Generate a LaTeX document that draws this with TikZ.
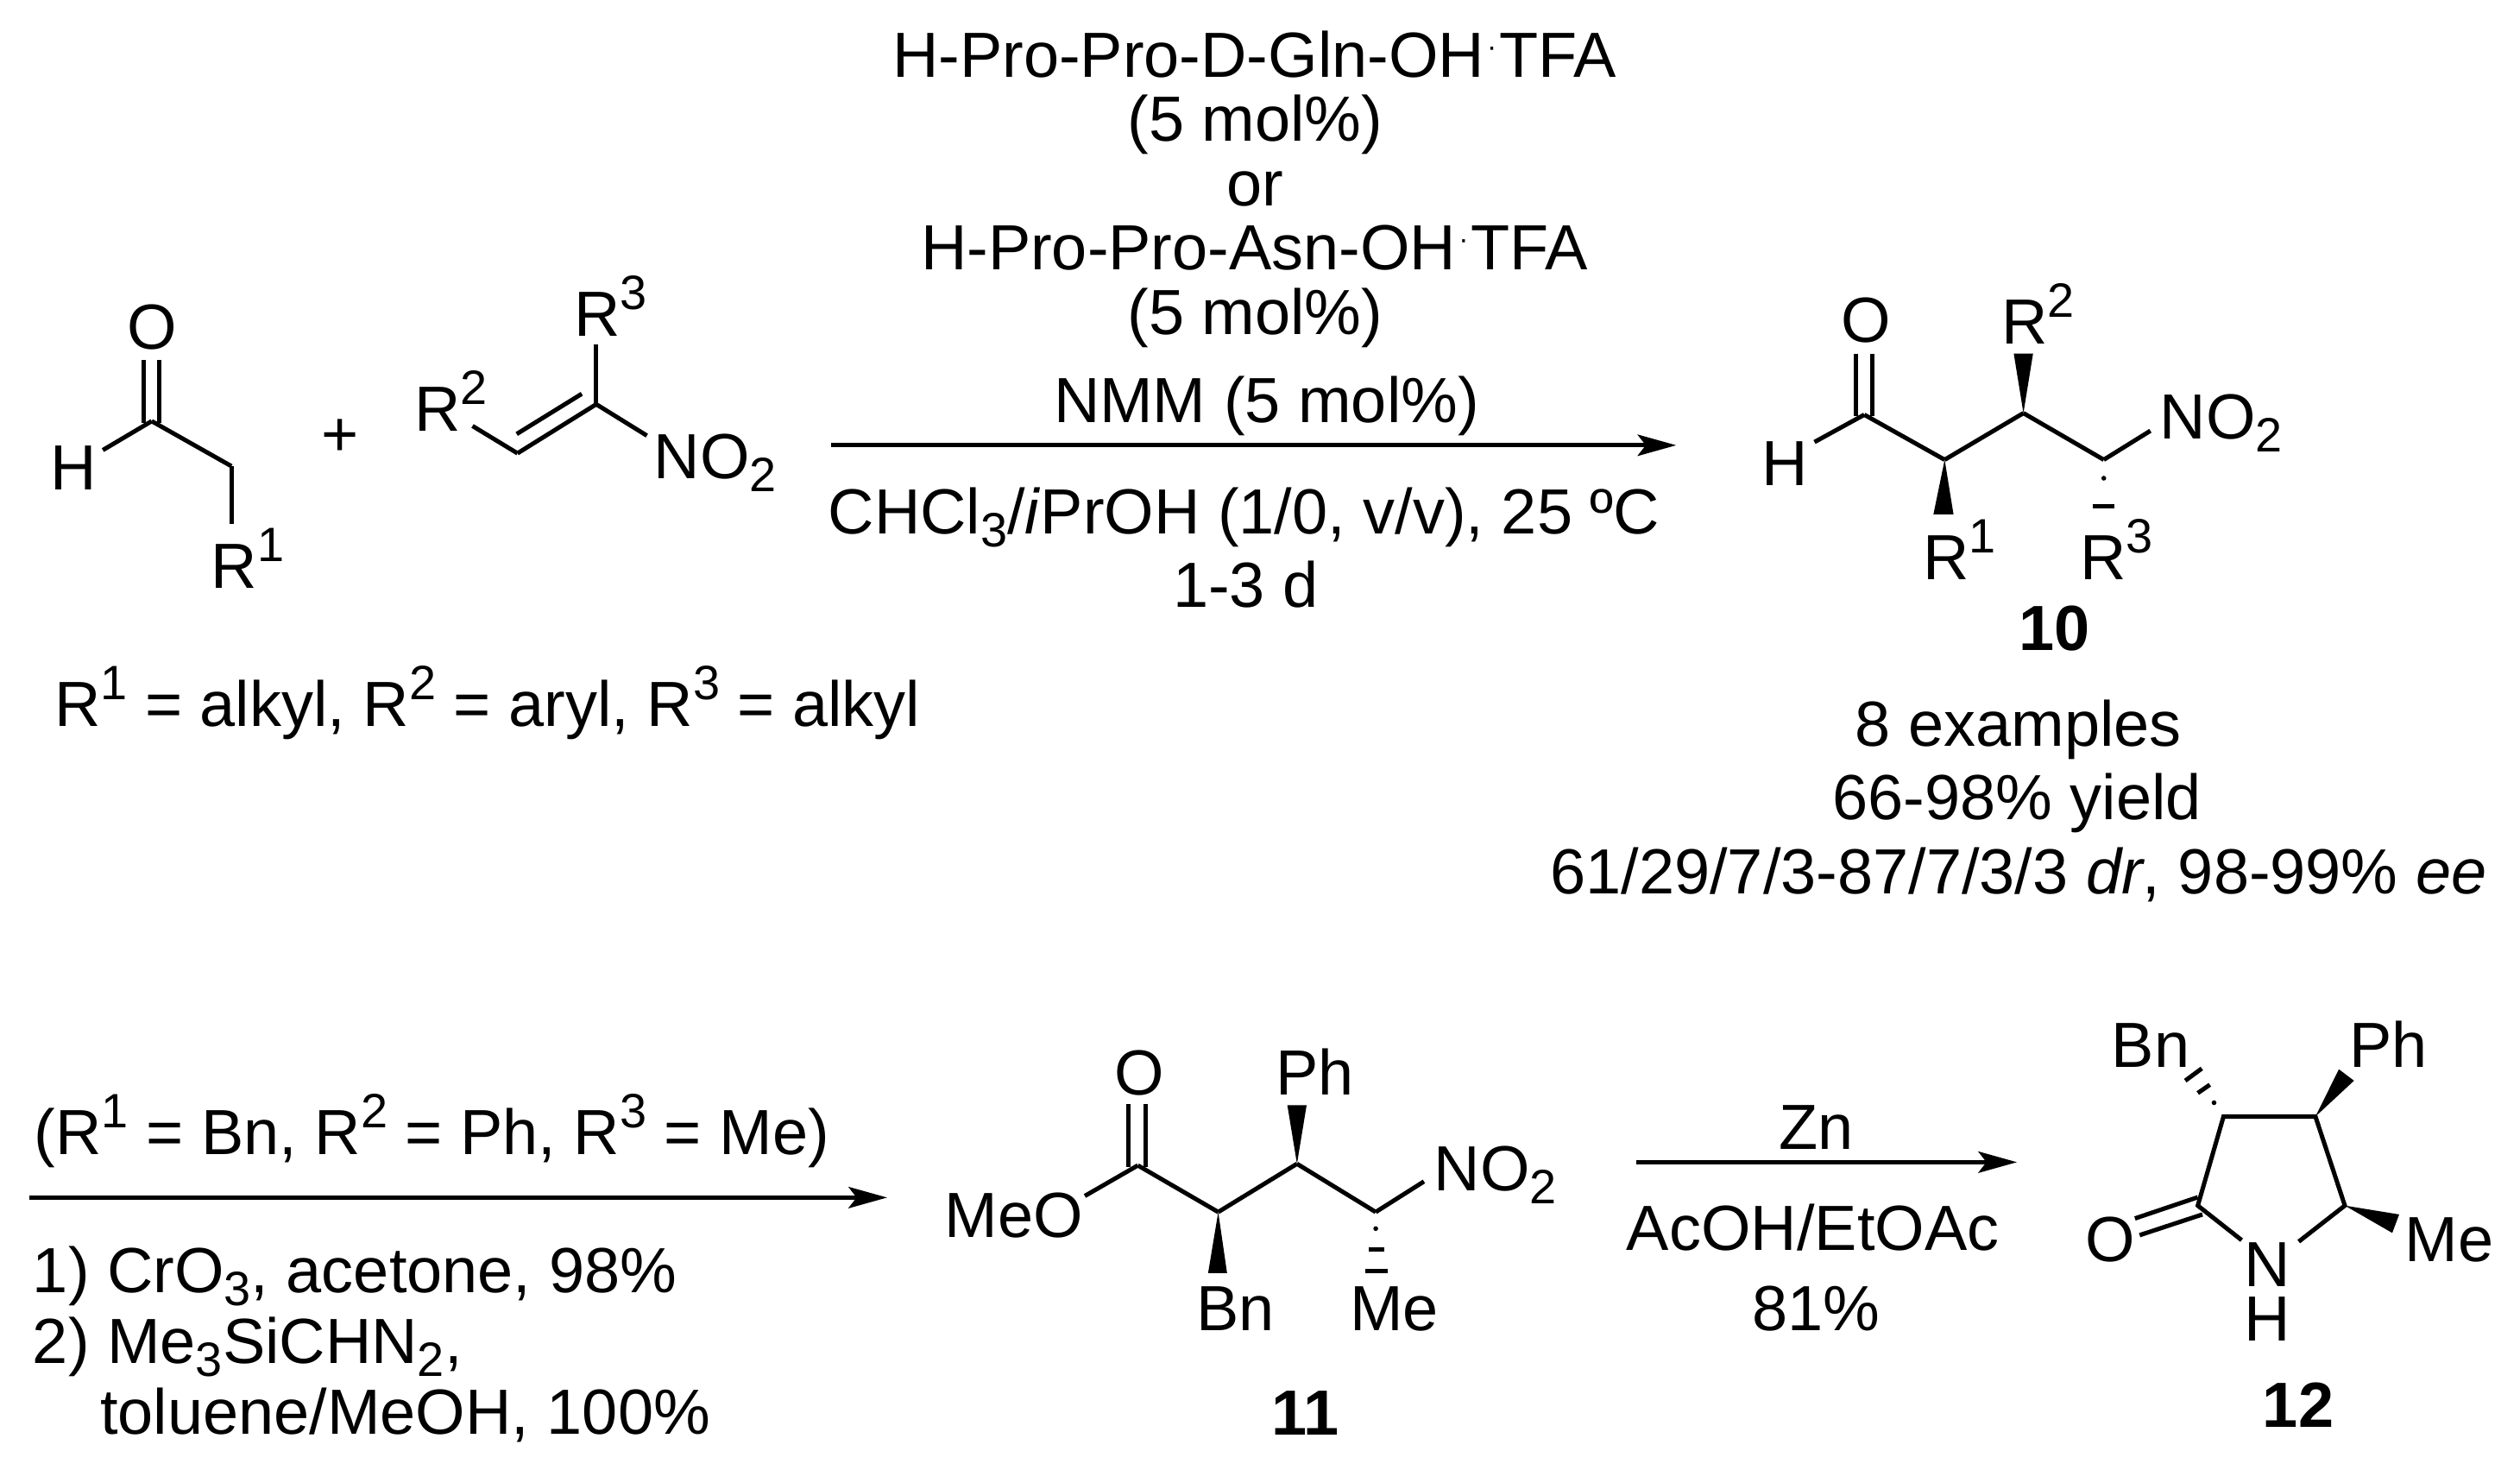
\documentclass[tikz,border=0pt]{standalone}
\usepackage{fontspec}
\setmainfont{Liberation Sans}
\usetikzlibrary{arrows.meta}
\newcommand{\Sup}[1]{\raisebox{8.3pt}{\fontsize{15}{15}\selectfont #1}}
\newcommand{\Sub}[1]{\raisebox{-4pt}{\fontsize{15}{15}\selectfont #1}}
\newcommand{\Dot}{\hspace{0.8pt}\raisebox{6.5pt}{\fontsize{9}{9}\selectfont ·}\hspace{0.8pt}}
\tikzset{
  bond/.style={line width=1.35pt},
  rxn/.style={line width=1.35pt,-{Stealth[length=12pt,width=6.6pt,inset=2.5pt]}},
  atom/.style={inner sep=0pt,anchor=base west},
  line/.style={inner sep=0pt,anchor=base}
}
\begin{document}
\begin{tikzpicture}[x=0.5pt,y=-0.5pt,font=\fontsize{19.85}{20}\selectfont]
  \useasboundingbox (0,0) rectangle (1568,914);

  % aldehyde and nitroalkene
  \foreach \n/\x/\y in {a1/94.4/262,a2/144/290,aO1/89.5/224,aO2/99.3/224,aO3/89.5/263,aO4/99.3/263,
      aH/64/280,aR/144/326,b1/294/265,b2/322/282,b3/371/251.5,b4/321.5/270,b5/362/245,bR/371/214,bN/402.5/271}
    \coordinate (\n) at (\x,\y);
  \foreach \a/\b in {a1/a2,a2/aR,a1/aH,aO1/aO3,aO2/aO4,b1/b2,b2/b3,b4/b5,b3/bR,b3/bN}
    \draw[bond] (\a) -- (\b);
  \node[atom] (labO) at (79,217) {O};
  \node[atom] (labH) at (31,305) {H};
  \node[atom] (labR1) at (131,366) {R\Sup{1}};
  \node[line] (plus) at (211.5,284) {+};
  \node[atom] (labR2) at (257.5,268) {R\Sup{2}};
  \node[atom] (labR3) at (357,209) {R\Sup{3}};
  \node[atom] (labN) at (406.5,298) {NO\Sub{2}};
  \node[atom] (defs) at (33.5,452) {R\Sup{1} = alkyl, R\Sup{2} = aryl, R\Sup{3} = alkyl};

  % first step
  \coordinate (s1) at (517,277);
  \coordinate (e1) at (1043,277);
  \draw[rxn] (s1) -- (e1);
  \node[line] (cat1) at (780.5,48) {H-Pro-Pro-D-Gln-OH\Dot TFA};
  \node[line] (cat2) at (781,88) {(5 mol\%)};
  \node[line] (cat3) at (781,128) {or};
  \node[line] (cat4) at (780.5,168) {H-Pro-Pro-Asn-OH\Dot TFA};
  \node[line] (cat5) at (781,208) {(5 mol\%)};
  \node[line] (cat6) at (788,263) {NMM (5 mol\%)};
  \node[line] (cat7) at (774,332) {CHCl\Sub{3}/\textit{i}PrOH (1/0, v/v), 25 ºC};
  \node[line] (cat8) at (775,378) {1-3 d};

  % product 10
  \foreach \n/\x/\y in {c1/1160/258,c2/1210/286,c3/1259/257,c4/1309/286,cH/1129/275,cN/1338/268,
      cO1/1155/220,cO2/1165/220,cO3/1155/259,cO4/1165/259}
    \coordinate (\n) at (\x,\y);
  \foreach \a/\b in {c1/c2,c2/c3,c3/c4,c1/cH,c4/cN,cO1/cO3,cO2/cO4}
    \draw[bond] (\a) -- (\b);
  \fill (c2) -- (1203,320) -- (1215.5,320) -- cycle;
  \fill (c3) -- (1253,220) -- (1265,220) -- cycle;
  \fill (1309,297.5) circle[radius=1.5];
  \draw[bond] (1302,315) -- (1315.5,315);
  \node[atom] (c10O) at (1145,213) {O};
  \node[atom] (c10H) at (1096,302) {H};
  \node[atom] (c10R1) at (1196,360.5) {R\Sup{1}};
  \node[atom] (c10R2) at (1245,214) {R\Sup{2}};
  \node[atom] (c10R3) at (1294,360.5) {R\Sup{3}};
  \node[atom] (c10N) at (1343.5,273) {NO\Sub{2}};
  \node[line] (num10) at (1278.5,404.5) {\textbf{10}};
  \node[line] (res1) at (1256,464) {8 examples};
  \node[line] (res2) at (1255,510) {66-98\% yield};
  \node[line] (res3) at (1256,556) {61/29/7/3-87/7/3/3 \textit{dr}, 98-99\% \textit{ee}};

  % second step
  \coordinate (s2) at (18,745);
  \coordinate (e2) at (552,745);
  \draw[rxn] (s2) -- (e2);
  \node[atom] (sub) at (21,718) {(R\Sup{1} = Bn, R\Sup{2} = Ph, R\Sup{3} = Me)};
  \node[atom] (ox1) at (20,804) {1) CrO\Sub{3}, acetone, 98\%};
  \node[atom] (ox2) at (20,848) {2) Me\Sub{3}SiCHN\Sub{2},};
  \node[atom] (ox3) at (62,892) {toluene/MeOH, 100\%};

  % ester 11
  \foreach \n/\x/\y in {d1/708/725,d2/758/754,d3/807/724,d4/856/754,dM/675/744,dN/886/735,
      dO1/702/687,dO2/713/687,dO3/702/726,dO4/713/726}
    \coordinate (\n) at (\x,\y);
  \foreach \a/\b in {d1/d2,d2/d3,d3/d4,d1/dM,d4/dN,dO1/dO3,dO2/dO4}
    \draw[bond] (\a) -- (\b);
  \fill (d2) -- (751.7,792) -- (763.5,792) -- cycle;
  \fill (d3) -- (801,687.5) -- (813,687.5) -- cycle;
  \fill (856,764.3) circle[radius=1.5];
  \draw[bond] (851.7,777.3) -- (861.3,777.3);
  \draw[bond] (849.5,790.5) -- (863.5,790.5);
  \node[atom] (c11O) at (693,681) {O};
  \node[atom] (c11M) at (587.5,770) {MeO};
  \node[atom] (c11N) at (892,741) {NO\Sub{2}};
  \node[atom] (c11Bn) at (744,828) {Bn};
  \node[atom] (c11Ph) at (793.5,681) {Ph};
  \node[atom] (c11Me) at (839.5,828) {Me};
  \node[line] (num11) at (812,893) {\textbf{11}};

  % third step
  \coordinate (s3) at (1018,723);
  \coordinate (e3) at (1255,723);
  \draw[rxn] (s3) -- (e3);
  \node[line] (zn1) at (1130,715) {Zn};
  \node[line] (zn2) at (1128,778) {AcOH/EtOAc};
  \node[line] (zn3) at (1130,828) {81\%};

  % lactam 12
  \foreach \n/\x/\y in {r1/1383.5/694.6,r2/1440.7/694.6,r3/1459/750,r4/1430.3/772.4,r5/1367.5/750,r6/1394.8/771.5,
      o1/1367.5/744.8,o2/1328.4/758,o3/1370.4/755.5,o4/1331.3/768.4}
    \coordinate (\n) at (\x,\y);
  \draw[bond] (r6) -- (r5) -- (r1) -- (r2) -- (r3) -- (r4);
  \draw[bond] (o1) -- (o2);
  \draw[bond] (o3) -- (o4);
  \fill (r2) -- (1455.3,665.2) -- (1464.7,672.3) -- cycle;
  \fill (r3) -- (1492.8,755.5) -- (1488.5,767) -- cycle;
  \fill (1377.6,686) circle[radius=1.5];
  \draw[bond] (1367.5,680) -- (1375,674.8);
  \draw[bond] (1359.7,672.3) -- (1370,664.7);
  \node[atom] (c12O) at (1297,785) {O};
  \node[inner sep=0pt,align=center,font=\fontsize{19.85}{16.8}\selectfont] (c12N) at (1411,803.5) {N\\H};
  \node[atom] (c12Bn) at (1313.5,664) {Bn};
  \node[atom] (c12Ph) at (1461.5,664) {Ph};
  \node[atom] (c12Me) at (1496,785) {Me};
  \node[line] (num12) at (1430,888) {\textbf{12}};
\end{tikzpicture}
\end{document}
